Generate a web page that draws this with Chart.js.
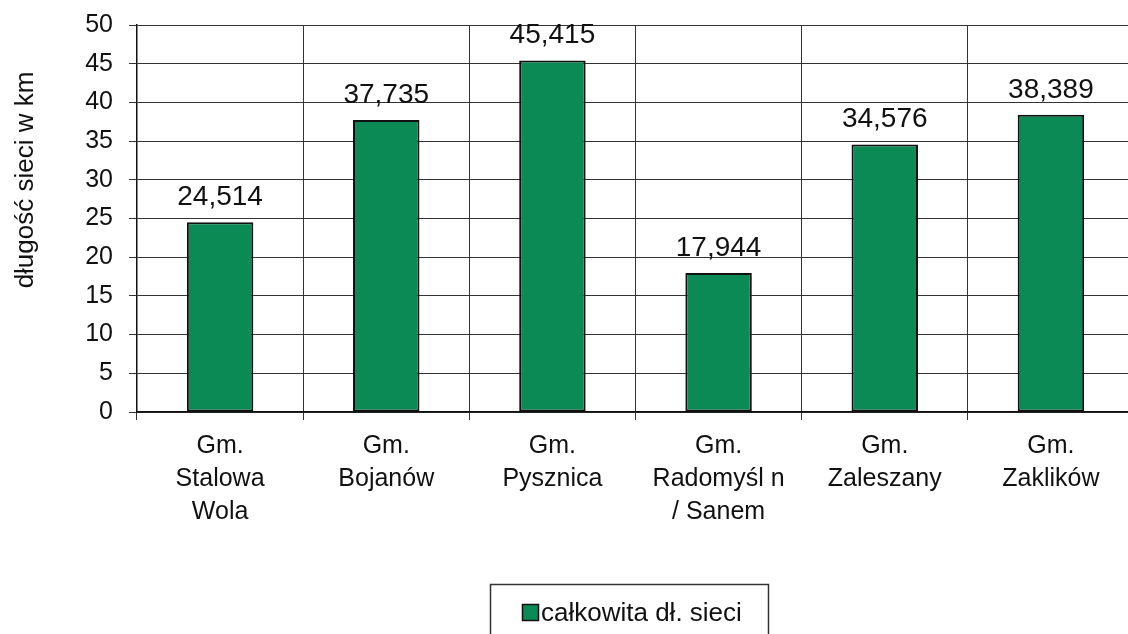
<!DOCTYPE html>
<html>
<head>
<meta charset="utf-8">
<script src="https://cdn.jsdelivr.net/npm/chart.js@4.4.1/dist/chart.umd.min.js"></script>
<style>
  body { margin: 0; background: #fff; overflow: hidden; }
  #wrap { width: 1134px; height: 634px; }
</style>
</head>
<body>
<div id="wrap"><canvas id="siecChart"></canvas></div>
<script>
// dane z wykresu
const gminy = [
    ["Gm.", "Stalowa", "Wola"],
    ["Gm.", "Bojanów"],
    ["Gm.", "Pysznica"],
    ["Gm.", "Radomyśl n", "/ Sanem"],
    ["Gm.", "Zaleszany"],
    ["Gm.", "Zaklików"]
];
const dlugoscSieci = [24.514, 37.735, 45.415, 17.944, 34.576, 38.389];
const yTicks = [0, 5, 10, 15, 20, 25, 30, 35, 40, 45, 50];

const FONT = "'Liberation Sans', Arial, sans-serif";
const green = '#0b8a56';

// etykiety wartości nad słupkami + tytuł osi + legenda w ramce
const extras = {
    id: 'extras',
    afterDatasetsDraw(chart) {
        const ctx = chart.ctx;
        const meta = chart.getDatasetMeta(0);
        ctx.save();
        ctx.fillStyle = '#111';
        ctx.font = '28px ' + FONT;
        ctx.textAlign = 'center';
        ctx.textBaseline = 'alphabetic';
        meta.data.forEach((bar, i) => {
            const txt = dlugoscSieci[i].toFixed(3).replace('.', ',');
            ctx.fillText(txt, bar.x, bar.y - 17);
        });
        ctx.restore();
    },
    afterDraw(chart) {
        const ctx = chart.ctx;
        ctx.save();
        // tytuł osi Y
        ctx.translate(26, 180);
        ctx.rotate(-Math.PI / 2);
        ctx.fillStyle = '#111';
        ctx.font = '26px ' + FONT;
        ctx.textAlign = 'center';
        ctx.textBaseline = 'middle';
        ctx.fillText('długość sieci w km', 0, 0);
        ctx.restore();

        // legenda
        ctx.save();
        ctx.strokeStyle = '#333';
        ctx.lineWidth = 1.5;
        ctx.strokeRect(490.5, 584.5, 278, 60);
        ctx.fillStyle = green;
        ctx.fillRect(522, 604, 17, 17);
        ctx.strokeStyle = '#111';
        ctx.lineWidth = 1.5;
        ctx.strokeRect(522.5, 604.5, 16, 16);
        ctx.fillStyle = '#111';
        ctx.font = '26px ' + FONT;
        ctx.textAlign = 'left';
        ctx.textBaseline = 'alphabetic';
        ctx.fillText(chart.data.datasets[0].label, 541, 621);
        ctx.restore();
    }
};

const ctx = document.getElementById('siecChart').getContext('2d');
new Chart(ctx, {
    type: 'bar',
    data: {
        labels: gminy,
        datasets: [{
            label: 'całkowita dł. sieci',
            data: dlugoscSieci,
            backgroundColor: green,
            borderColor: '#111',
            borderWidth: 2,
            borderSkipped: false,
            barPercentage: 0.40,
            categoryPercentage: 1
        }]
    },
    options: {
        responsive: true,
        maintainAspectRatio: false,
        animation: false,
        layout: { padding: { top: 25, right: 0, bottom: 0, left: 0 } },
        plugins: {
            legend: { display: false },
            tooltip: { enabled: false }
        },
        scales: {
            x: {
                grid: { color: '#333', lineWidth: 1, tickLength: 8, offset: true },
                border: { color: '#111', width: 1.5 },
                ticks: {
                    color: '#111',
                    font: { family: FONT, size: 25, lineHeight: 1.32 },
                    padding: 10,
                    maxRotation: 0,
                    autoSkip: false
                },
                afterFit(scale) {
                    scale.height = 222;
                    scale.paddingLeft = 0;
                    scale.paddingRight = 0;
                }
            },
            y: {
                min: 0,
                max: 50,
                afterBuildTicks(scale) { scale.ticks = yTicks.map(v => ({ value: v })); },
                grid: { color: '#333', lineWidth: 1, tickLength: 8 },
                border: { color: '#111', width: 1.5 },
                ticks: {
                    color: '#111',
                    font: { family: FONT, size: 25 },
                    padding: 16
                },
                afterFit(scale) {
                    scale.width = 137;
                    scale.paddingTop = 0;
                    scale.paddingBottom = 0;
                }
            }
        }
    },
    plugins: [extras]
});
</script>
</body>
</html>
